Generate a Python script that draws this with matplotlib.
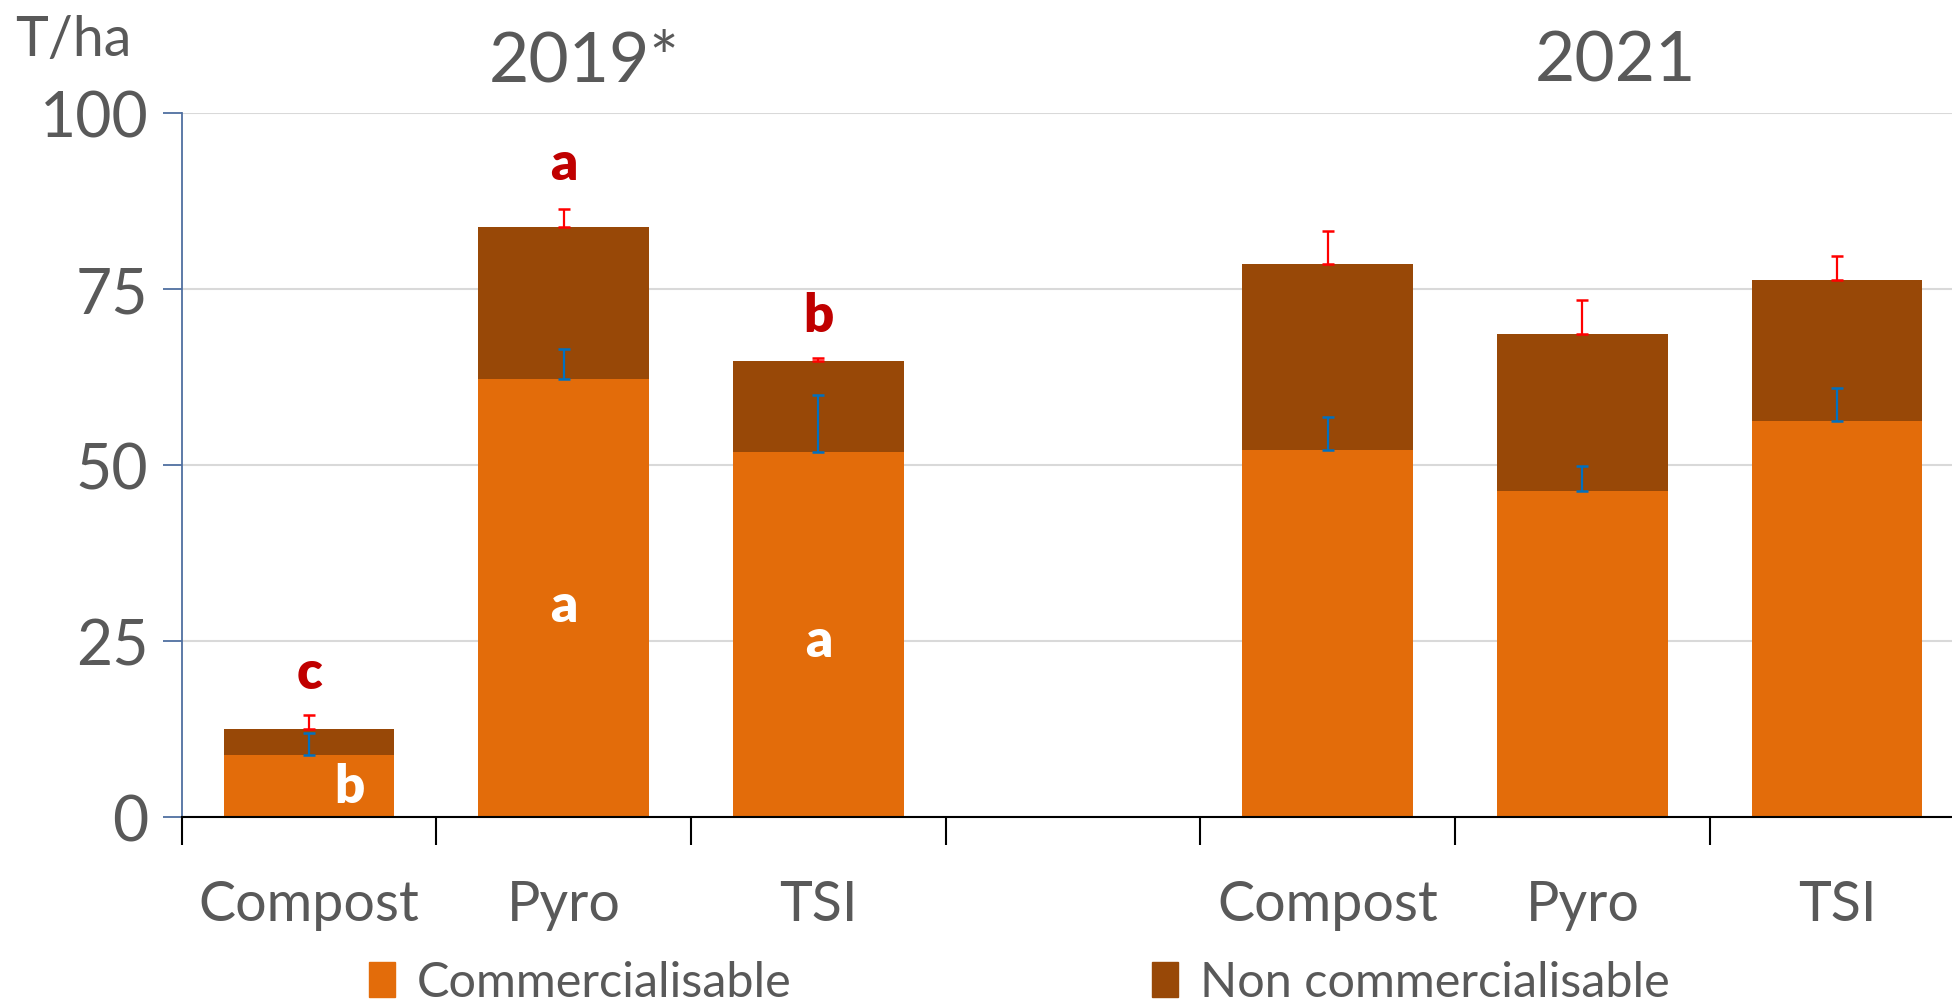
import matplotlib
matplotlib.use("Agg")
import matplotlib.pyplot as plt
from matplotlib.patches import Patch

# ---- data ----
categories = ["Compost", "Pyro", "TSI", "", "Compost", "Pyro", "TSI"]
positions = [0, 1, 2, 4, 5, 6]
commercial = [8.8, 62.3, 51.9, 52.1, 46.3, 56.3]
non_commercial = [3.65, 21.6, 12.9, 26.55, 22.4, 20.0]
err_commercial = [3.2, 4.2, 8.1, 4.7, 3.6, 4.7]
err_total = [2.05, 2.5, 0.5, 4.7, 4.8, 3.4]
year_titles = ["2019*", "2021"]
year_x = [1.08, 5.13]
# significance letters
letter_x = [1, 2, 0, 1, 2, 0.16]
letter_y = [92.9, 71.3, 20.5, 30.1, 25.1, 4.4]
letter_txt = ["a", "b", "c", "a", "a", "b"]
letter_col = ["#C00000", "#C00000", "#C00000", "white", "white", "white"]
yticks = [0, 25, 50, 75, 100]
series_names = ["Commercialisable", "Non commercialisable"]

ORANGE = "#E36C0A"
BROWN = "#984807"
TXT = "#595959"
FONT = "Lato"

plt.rcParams["font.family"] = [FONT, "DejaVu Sans"]

fig = plt.figure(figsize=(19.52, 10.04), dpi=100)
ax = fig.add_axes([0.0931, 0.1853, 0.9133, 0.7007])

totals = [c + n for c, n in zip(commercial, non_commercial)]
ax.bar(positions, commercial, width=0.67, color=ORANGE, zorder=2)
ax.bar(positions, non_commercial, bottom=commercial, width=0.67, color=BROWN, zorder=2)

ax.errorbar(positions, commercial, yerr=[[0] * len(positions), err_commercial],
            fmt="none", ecolor="#0070C0", elinewidth=1.6, capsize=4.5, capthick=1.8, zorder=4)
ax.errorbar(positions, totals, yerr=[[0] * len(positions), err_total],
            fmt="none", ecolor="#FF0000", elinewidth=1.6, capsize=4.5, capthick=1.8, zorder=4)

for x, y, t, c in zip(letter_x, letter_y, letter_txt, letter_col):
    ax.text(x, y, t, color=c, fontsize=38, fontweight="heavy", ha="center", va="center", zorder=5)

ax.set_xlim(-0.5, 6.5)
ax.set_ylim(0, 100)

# y axis
ax.set_yticks(yticks)
ax.set_yticklabels([str(v) for v in yticks], fontsize=45, color=TXT)
ax.tick_params(axis="y", length=14, width=1.3, color="#4F6FA0", pad=10)
ax.yaxis.grid(True, color="#D9D9D9", linewidth=1.5, zorder=0)
ax.set_axisbelow(True)

# x axis: boundary ticks (minor) and category labels (major, no tick line)
ax.set_xticks(range(len(categories)))
ax.set_xticklabels(categories, fontsize=40, color=TXT)
ax.set_xticks([i - 0.5 for i in range(len(categories) + 1)], minor=True)
ax.tick_params(axis="x", which="major", length=0, pad=45)
ax.tick_params(axis="x", which="minor", length=20, width=1.5, color="black")

for s in ["top", "right"]:
    ax.spines[s].set_visible(False)
ax.spines["left"].set_color("#4F6FA0")
ax.spines["left"].set_linewidth(1.3)
ax.spines["bottom"].set_color("black")
ax.spines["bottom"].set_linewidth(1.5)

for t, x in zip(year_titles, year_x):
    ax.text(x, 107.5, t, fontsize=50, color=TXT, ha="center", va="center", clip_on=False)

fig.text(0.008, 0.985, "T/ha", fontsize=40, color=TXT, ha="left", va="top")

handles = [Patch(color=ORANGE, label=series_names[0]),
           Patch(color=BROWN, label=series_names[1])]
fig.legend(handles=handles, loc="center left", bbox_to_anchor=(0.1888, 0.0205), ncol=2,
           frameon=False, fontsize=35, labelcolor=TXT, columnspacing=7.4,
           handlelength=0.55, handleheight=0.75, handletextpad=0.45,
           borderpad=0, borderaxespad=0)

fig.savefig("out.png", dpi=100)
